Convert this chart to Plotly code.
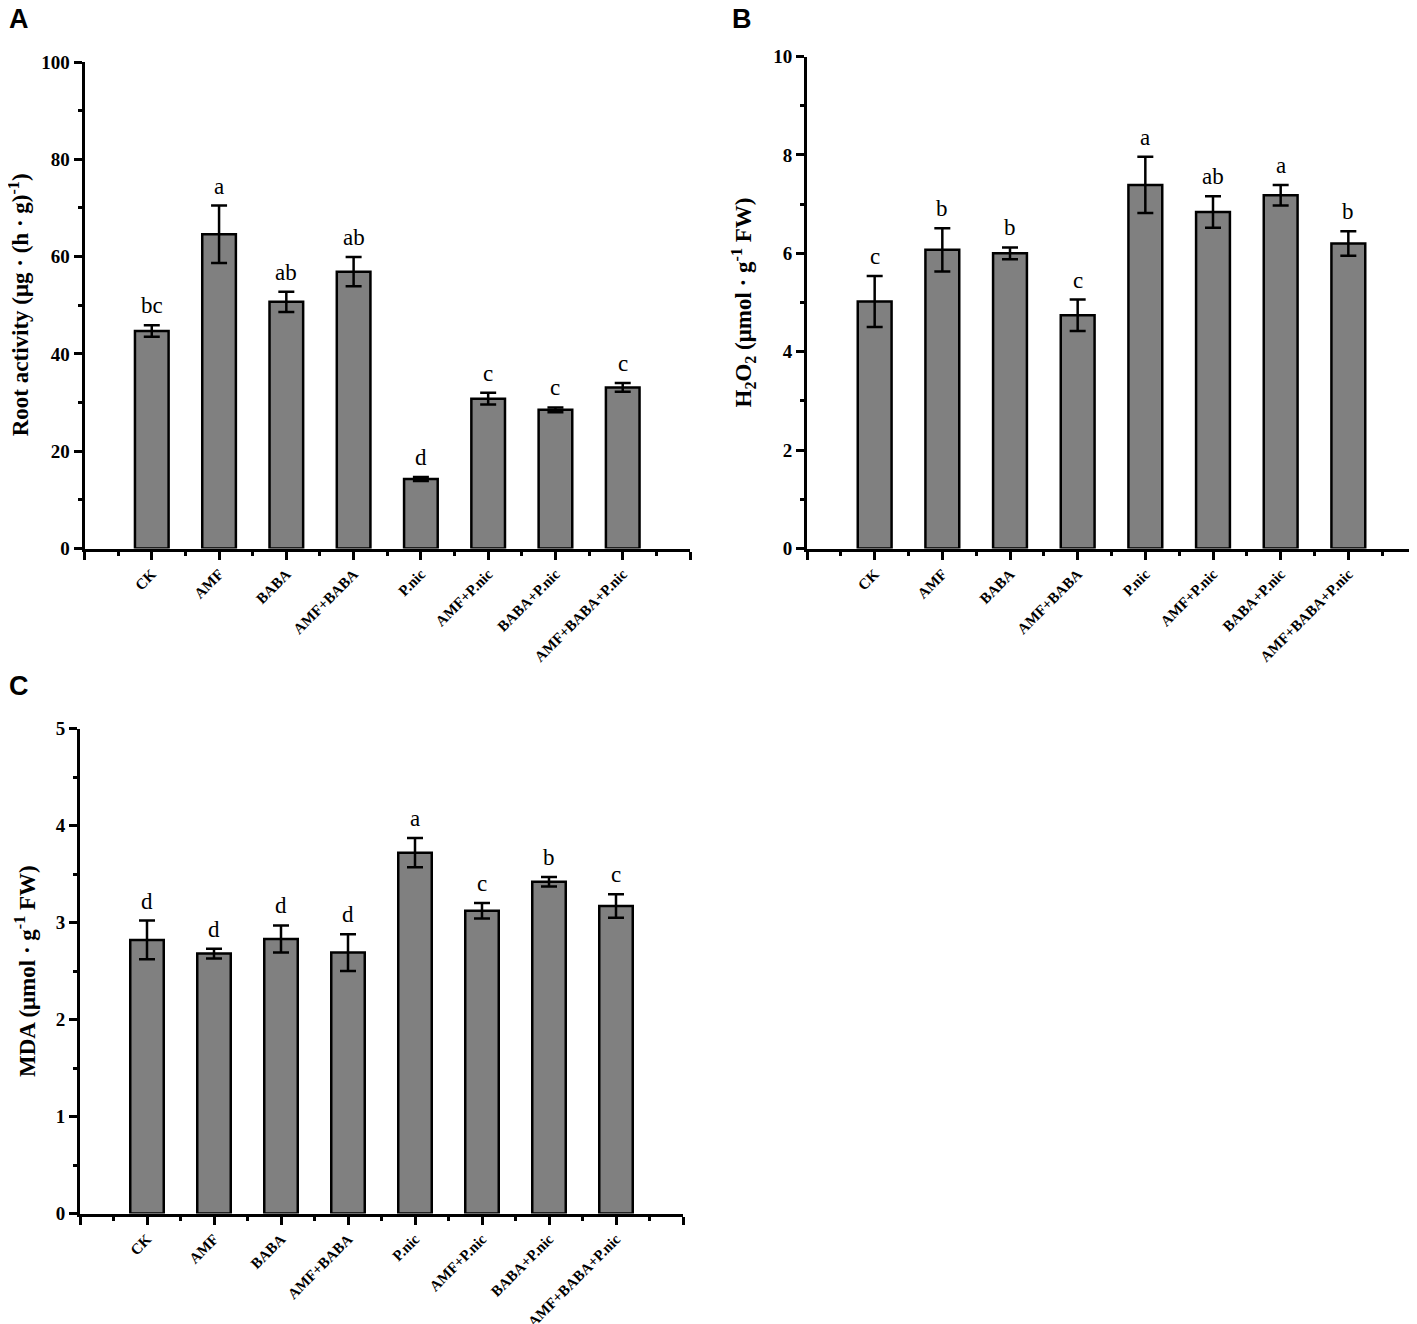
import plotly.graph_objects as go

categories = ["CK", "AMF", "BABA", "AMF+BABA", "P.nic", "AMF+P.nic", "BABA+P.nic", "AMF+BABA+P.nic"]

root_mean = [44.7, 64.6, 50.7, 56.9, 14.3, 30.8, 28.5, 33.1]
root_err = [1.2, 5.9, 2.1, 3.0, 0.4, 1.2, 0.5, 0.9]
root_letters = ["bc", "a", "ab", "ab", "d", "c", "c", "c"]

h2o2_mean = [5.02, 6.07, 6.00, 4.74, 7.39, 6.84, 7.18, 6.20]
h2o2_err = [0.52, 0.44, 0.12, 0.32, 0.57, 0.32, 0.21, 0.25]
h2o2_letters = ["c", "b", "b", "c", "a", "ab", "a", "b"]

mda_mean = [2.82, 2.68, 2.83, 2.69, 3.72, 3.12, 3.42, 3.17]
mda_err = [0.20, 0.05, 0.14, 0.19, 0.15, 0.08, 0.05, 0.12]
mda_letters = ["d", "d", "d", "d", "a", "c", "b", "c"]

# page has an 8px body margin; positions below are window pixels, converted here
OFF = 8
W, H = 1417 - OFF, 1324 - OFF
SERIF = "Liberation Serif"
SANS = "Liberation Sans"


def px_x(v):
    return (v - OFF) / W


def px_y(v):
    return 1 - (v - OFF) / H


xpos = list(range(1, len(categories) + 1))

panels = [
    dict(mean=root_mean, err=root_err, letters=root_letters, ymax=100, dtick=20, minor=10,
         xdom=(84.5, 690), ydom=(62, 548.5), xa="x", ya="y",
         title="Root activity (μg · (h · g)<sup>-1</sup>)", tx=19, label="A", lx=8, ly=3),
    dict(mean=h2o2_mean, err=h2o2_err, letters=h2o2_letters, ymax=10, dtick=2, minor=1,
         xdom=(807, 1416), ydom=(56.5, 548.5), xa="x2", ya="y2",
         title="H<sub>2</sub>O<sub>2</sub> (μmol · g<sup>-1</sup> FW)", tx=743, label="B", lx=731, ly=3),
    dict(mean=mda_mean, err=mda_err, letters=mda_letters, ymax=5, dtick=1, minor=0.5,
         xdom=(80, 683), ydom=(728.5, 1213.5), xa="x3", ya="y3",
         title="MDA (μmol · g<sup>-1</sup> FW)", tx=25, label="C", lx=8, ly=670),
]

fig = go.Figure()
annotations = []
layout_axes = {}

for i, p in enumerate(panels):
    fig.add_trace(go.Bar(
        x=xpos, y=p["mean"], width=0.5,
        marker=dict(color="#808080", line=dict(color="black", width=2.5)),
        error_y=dict(type="data", array=p["err"], visible=True, color="black", thickness=2.5, width=8),
        xaxis=p["xa"], yaxis=p["ya"], showlegend=False,
    ))
    sfx = "" if i == 0 else str(i + 1)
    x0, x1 = px_x(p["xdom"][0]), px_x(p["xdom"][1])
    y0, y1 = px_y(p["ydom"][1]), px_y(p["ydom"][0])
    layout_axes["xaxis" + sfx] = dict(
        domain=[x0, min(x1, 1.0)], anchor=p["ya"], range=[0, len(categories) + 1], automargin=False,
        tickmode="array", tickvals=list(range(0, len(categories) + 2)),
        ticktext=[""] + categories + [""], tickangle=-45,
        ticks="outside", ticklen=8, tickwidth=2.5, tickcolor="black",
        showline=True, linewidth=3, linecolor="black", showgrid=False, zeroline=False,
        tickfont=dict(family=SERIF, size=15, color="black", weight="bold"),
        minor=dict(tick0=0, dtick=0.5, ticks="outside", ticklen=4, tickwidth=2.5, tickcolor="black", showgrid=False),
        fixedrange=True,
    )
    layout_axes["yaxis" + sfx] = dict(
        domain=[y0, y1], anchor=p["xa"], range=[0, p["ymax"]], automargin=False,
        tick0=0, dtick=p["dtick"], ticks="outside", ticklen=8, tickwidth=2.5, tickcolor="black",
        showline=True, linewidth=3, linecolor="black", showgrid=False, zeroline=False,
        tickfont=dict(family=SERIF, size=19, color="black", weight="bold"),
        minor=dict(dtick=p["minor"], ticks="outside", ticklen=4, tickwidth=2.5, tickcolor="black", showgrid=False),
        fixedrange=True,
    )
    # significance letters
    for xv, m, e, t in zip(xpos, p["mean"], p["err"], p["letters"]):
        annotations.append(dict(
            x=xv, y=m + e, xref=p["xa"], yref=p["ya"], text=t, showarrow=False,
            yanchor="bottom", xanchor="center", yshift=5,
            font=dict(family=SERIF, size=23, color="black"),
        ))
    # y-axis title
    annotations.append(dict(
        x=px_x(p["tx"]), y=px_y((p["ydom"][0] + p["ydom"][1]) / 2), xref="paper", yref="paper",
        text=p["title"], textangle=-90, showarrow=False, xanchor="center", yanchor="middle",
        font=dict(family=SERIF, size=23, color="black", weight="bold"),
    ))
    # panel letter
    annotations.append(dict(
        x=px_x(p["lx"]), y=px_y(p["ly"]), xref="paper", yref="paper",
        text=p["label"], showarrow=False, xanchor="left", yanchor="top", borderpad=0,
        font=dict(family=SANS, size=27, color="black", weight="bold"),
    ))

fig.update_layout(
    width=W, height=H, margin=dict(l=0, r=0, t=0, b=0, autoexpand=False),
    paper_bgcolor="white", plot_bgcolor="white",
    annotations=annotations, bargap=0.5,
    **layout_axes,
)

fig.write_html("out.html")
